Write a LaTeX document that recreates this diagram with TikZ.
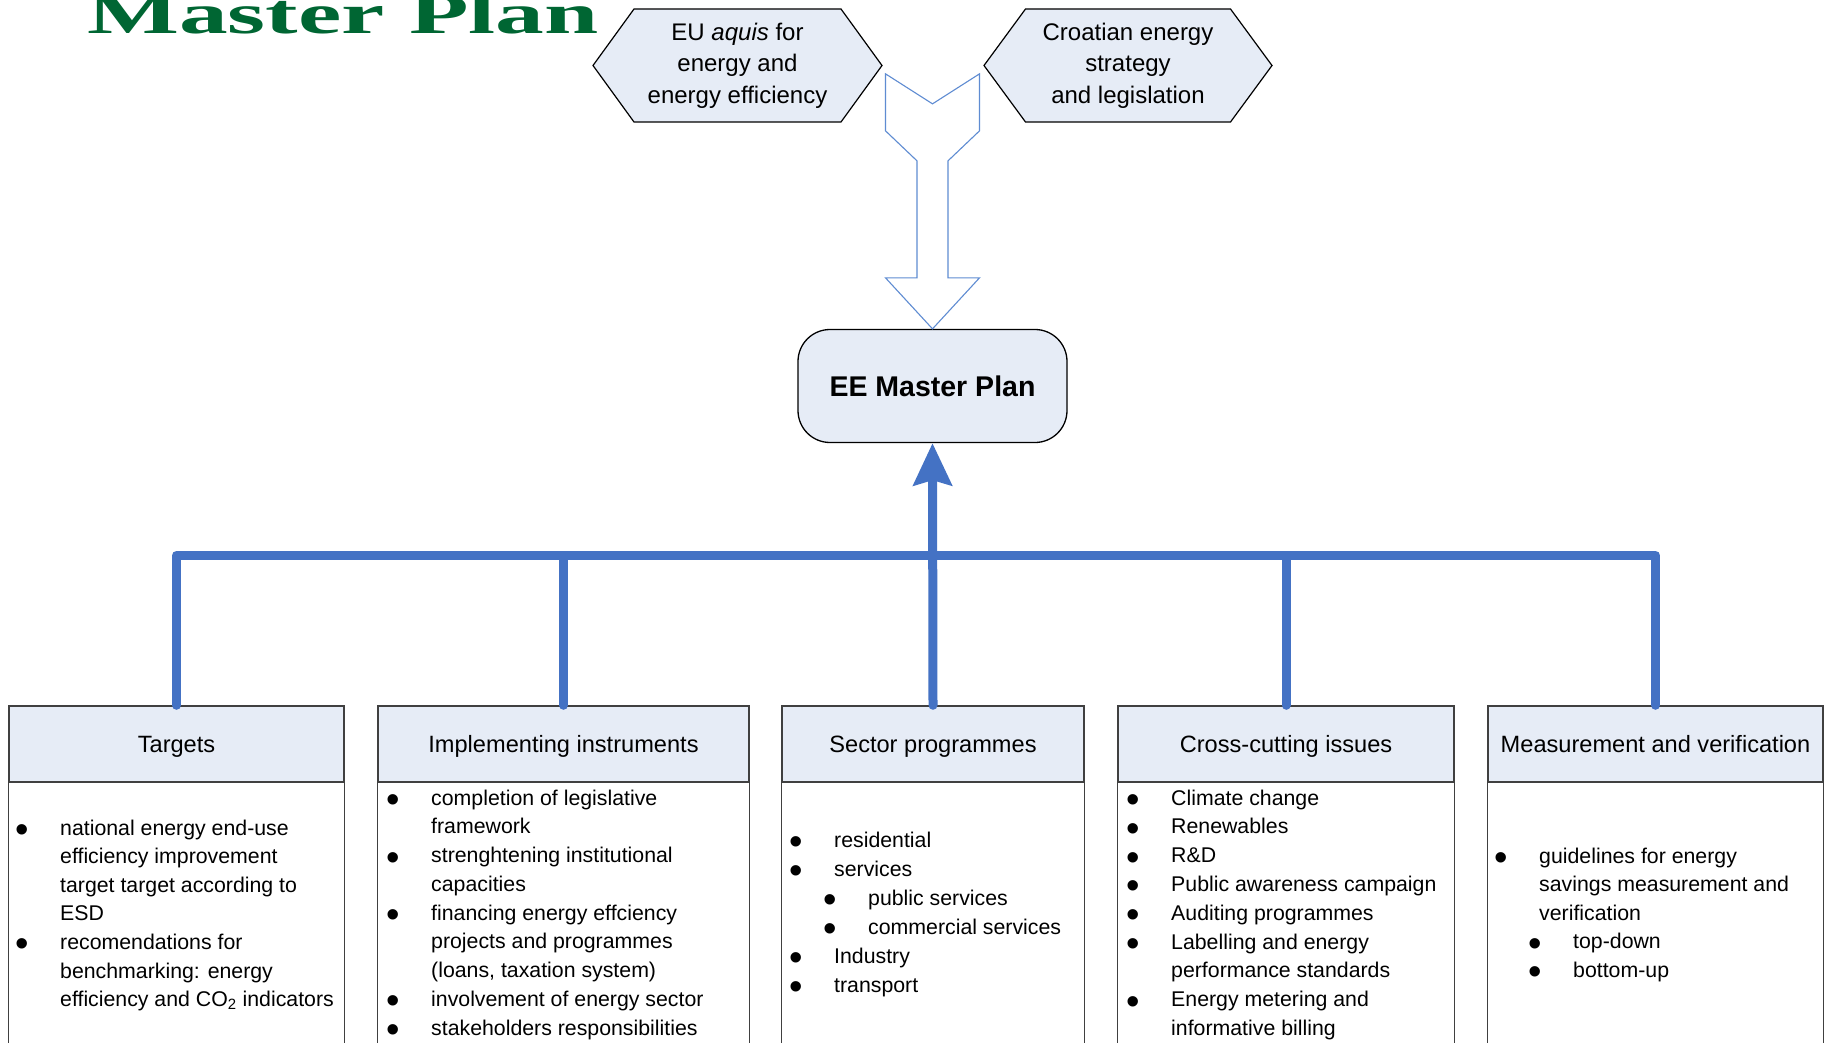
\documentclass[tikz,border=0pt]{standalone}
\usepackage{fontspec}
\setmainfont{Liberation Sans}
\newfontfamily\titlefont{Liberation Serif}
\usetikzlibrary{arrows.meta,calc}
\definecolor{paleblue}{RGB}{230,236,246}
\definecolor{linkblue}{RGB}{68,114,196}
\definecolor{forkblue}{RGB}{95,140,210}
\definecolor{titlegreen}{RGB}{0,102,51}
\definecolor{boxgrey}{RGB}{64,64,64}
\newcommand\bul{\llap{\smash{\raisebox{-7.5pt}{\scalebox{1.8}{\textbullet}}}\hspace{30.8pt}}}
\newcommand\subind{\hspace*{34pt}}
\begin{document}
\begin{tikzpicture}[x=1pt,y=-1pt,
  hexline/.style={draw=black,fill=paleblue,line width=1.2pt,line join=miter},
  hextext/.style={align=center,inner sep=0pt,font=\fontsize{24}{31.5}\selectfont},
  forkline/.style={draw=forkblue,fill=white,line width=1.1pt},
  eebox/.style={draw=black,fill=paleblue,line width=1.3pt,rounded corners=32pt,
    minimum width=269pt,minimum height=113pt,inner sep=0pt,
    font=\fontsize{28.5}{34}\selectfont\bfseries,text height=21pt,text depth=0pt},
  hdr/.style={draw=boxgrey,fill=paleblue,line width=1.4pt,minimum height=76pt,inner sep=0pt,
    font=\fontsize{23.6}{28}\selectfont,text height=20pt,text depth=4pt},
  bodyline/.style={draw=boxgrey,line width=1.4pt},
  bodytext/.style={anchor=base west,inner sep=0pt,font=\fontsize{21.3}{25}\selectfont},
  bus/.style={draw=linkblue,line width=9pt,line cap=round,line join=round}]
\useasboundingbox (0,0) rectangle (1824,1043);
\fill[white] (0,0) rectangle (1824,1043);

% title
\node[anchor=base west,inner sep=0pt,text=titlegreen,font=\fontsize{57}{60}\selectfont\titlefont\bfseries] (title) at (87,34) {\scalebox{1.71}[1]{Master Plan}};

% hexagons
\coordinate (euc) at (737.5,65.5);
\coordinate (croc) at (1128,65.5);
\begin{scope}[shift={(euc)}]
  \draw[hexline] (-144.5,0) -- (-103.5,-56.5) -- (103.5,-56.5) -- (144.5,0) -- (103.5,56.5) -- (-103.5,56.5) -- cycle;
\end{scope}
\begin{scope}[shift={(croc)}]
  \draw[hexline] (-144,0) -- (-102.5,-56.5) -- (102.5,-56.5) -- (144,0) -- (102.5,56.5) -- (-102.5,56.5) -- cycle;
\end{scope}
\node[hextext] (eu) at (euc) {EU \textit{aquis} for\\energy and\\energy efficiency};
\node[hextext] (cro) at (croc) {Croatian energy\\strategy\\and legislation};

% EE master plan
\node[eebox] (ee) at (932.5,386) {EE Master Plan};

% fork arrow
\begin{scope}[shift={(ee.north)}]
  \draw[forkline] (0,0) -- (47,-51) -- (15.5,-51) -- (15.5,-168) -- (47,-198) -- (47,-255) -- (0,-225)
    -- (-47,-255) -- (-47,-198) -- (-15.5,-168) -- (-15.5,-51) -- (-47,-51) -- cycle;
\end{scope}

% headers
\node[hdr,minimum width=335pt] (h1) at (176.5,744) {Targets};
\node[hdr,minimum width=371pt] (h2) at (563.5,744) {Implementing instruments};
\node[hdr,minimum width=302pt] (h3) at (933,744) {Sector programmes};
\node[hdr,minimum width=336pt] (h4) at (1286,744) {Cross-cutting issues};
\node[hdr,minimum width=335pt] (h5) at (1655.5,744) {Measurement and verification};
\foreach \h in {h1,h2,h3,h4,h5}
  \draw[bodyline] (\h.south west) rectangle ($(\h.south east)+(0,320)$);

% connectors
\coordinate (bus) at (0,555.5);
\draw[bus] (h1.north) -- (h1.north |- bus) -- (h5.north |- bus) -- (h5.north);
\draw[bus] (h2.north) -- (h2.north |- bus);
\draw[bus] (h4.north) -- (h4.north |- bus);
\draw[bus,-{Stealth[length=42pt,width=38pt,inset=5pt]}] (h3.north) -- (ee.south);

% body texts
\foreach \t [count=\i] in {{\bul national energy end-use},{efficiency improvement},{target target according to},{ESD},
  {\bul recomendations for},{benchmarking: energy},{efficiency and CO\textsubscript{2} indicators}}
  \node[bodytext] (ta-\i) at (60,{835+(\i-1)*28.6}) {\t};
\foreach \t [count=\i] in {{\bul completion of legislative},{framework},{\bul strenghtening institutional},{capacities},
  {\bul financing energy effciency},{projects and programmes},{(loans, taxation system)},
  {\bul involvement of energy sector},{\bul stakeholders responsibilities}}
  \node[bodytext] (im-\i) at (431,{805+(\i-1)*28.75}) {\t};
\foreach \t [count=\i] in {{\bul residential},{\bul services},{\subind\bul public services},{\subind\bul commercial services},
  {\bul Industry},{\bul transport}}
  \node[bodytext] (se-\i) at (834,{847+(\i-1)*29}) {\t};
\foreach \t [count=\i] in {{\bul Climate change},{\bul Renewables},{\bul R\&D},{\bul Public awareness campaign},
  {\bul Auditing programmes},{\bul Labelling and energy},{performance standards},{\bul Energy metering and},{informative billing}}
  \node[bodytext] (cc-\i) at (1171,{805+(\i-1)*28.8}) {\t};
\foreach \t [count=\i] in {{\bul guidelines for energy},{savings measurement and},{verification},
  {\subind\bul top-down},{\subind\bul bottom-up}}
  \node[bodytext] (mv-\i) at (1539,{863+(\i-1)*28.6}) {\t};
\end{tikzpicture}
\end{document}
